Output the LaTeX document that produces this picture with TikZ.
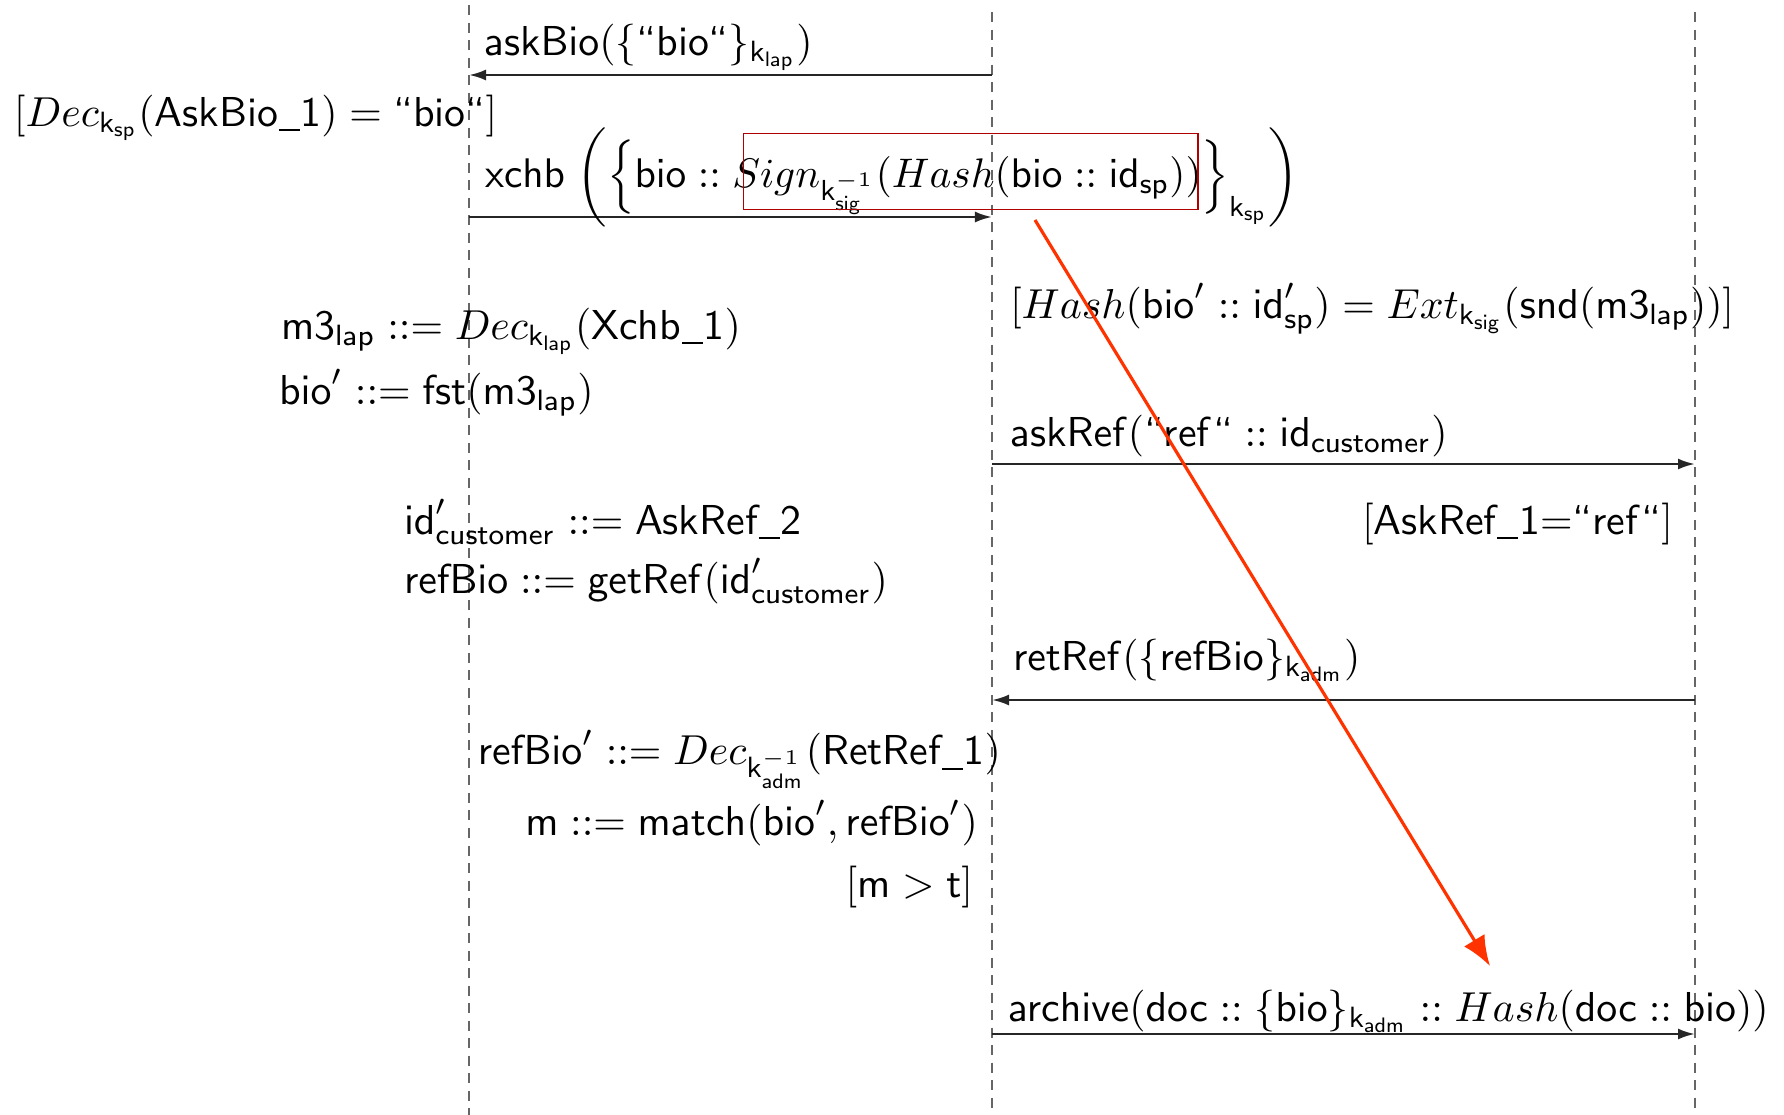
\documentclass[tikz,border=0pt]{standalone}
\usepackage{amsmath}
\usepackage{graphicx}
\usetikzlibrary{arrows.meta}
% sans-serif identifiers inside math
\newcommand{\tx}[1]{\mathsf{#1}}
\newcommand{\tq}[1]{\textsf{``#1``}}
% thin low underscore for identifiers such as AskBio_1
\newcommand{\us}{\kern0.02em\rule[-0.12em]{0.5em}{0.05em}\kern0.02em}
% labels are set at 10pt and enlarged
\newcommand{\lb}[1]{\scalebox{1.19}{#1}}
\tikzset{
  lifeline/.style={draw=black!60, line width=0.55pt, dash pattern=on 0.1cm off 0.075cm},
  msg/.style={draw=black!85, line width=0.7pt, -{Latex[length=0.17cm,width=0.11cm]}},
  lbl/.style={inner sep=0pt, outer sep=0pt, font=\fontsize{10}{12}\selectfont\sffamily},
  hilite/.style={draw=red!70!black, line width=0.4pt, inner sep=0pt},
  pointer/.style={draw={rgb,255:red,255;green,51;blue,0}, line width=0.9pt,
    -{Latex[length=0.3cm,width=0.24cm]}},
}
\begin{document}
\begin{tikzpicture}[x=0.01cm, y=-0.01cm]
\useasboundingbox (0,0) rectangle (1784,1115);

% lifelines
\coordinate (Ltop) at (469,5);   \coordinate (Lbot) at (469,1115);
\coordinate (Mtop) at (992,12);  \coordinate (Mbot) at (992,1108);
\coordinate (Rtop) at (1695,12); \coordinate (Rbot) at (1695,1110);
\draw[lifeline] (Ltop) -- (Lbot);
\draw[lifeline] (Mtop) -- (Mbot);
\draw[lifeline] (Rtop) -- (Rbot);

% message end points on the lifelines
\coordinate (m1M) at (992,75);   \coordinate (m1L) at (469,75);
\coordinate (m2L) at (469,217);  \coordinate (m2M) at (992,217);
\coordinate (m3M) at (992,464);  \coordinate (m3R) at (1695,464);
\coordinate (m4R) at (1695,700); \coordinate (m4M) at (992,700);
\coordinate (m5M) at (992,1034); \coordinate (m5R) at (1695,1034);

\draw[msg] (m1M) -- (m1L);
\draw[msg] (m2L) -- (m2M);
\draw[msg] (m3M) -- (m3R);
\draw[msg] (m4R) -- (m4M);
\draw[msg] (m5M) -- (m5R);

% message labels and local computations
\node[lbl, anchor=west] (askbio) at (484,47)
  {\lb{$\tx{askBio}(\{\tq{bio}\}_{\tx{k}_{\tx{lap}}})$}};
\node[lbl, anchor=west] (grd1) at (14,118)
  {\lb{$[Dec_{\tx{k}_{\tx{sp}}}(\textsf{AskBio\us1}) = \tq{bio}]$}};
\node[lbl, anchor=west] (xchb) at (485,177)
  {\scalebox{1.175}{$\tx{xchb}\; \biggl(\Bigl\{\tx{bio} :: Sign_{\tx{k}_{\tx{sig}}^{-1}}(Hash(\tx{bio} :: \tx{id}_{\tx{sp}}))\Bigr\}_{\tx{k}_{\tx{sp}}}\biggr)$}};
\node[lbl, anchor=west] (grd2) at (1010,309)
  {\lb{$[Hash(\tx{bio}' :: \tx{id}'_{\tx{sp}}) = Ext_{\tx{k}_{\tx{sig}}}(\tx{snd}(\tx{m3}_{\tx{lap}}))]$}};
\node[lbl, anchor=west] (dec1) at (281,331)
  {\lb{$\tx{m3}_{\tx{lap}} ::= Dec_{\tx{k}_{\tx{lap}}}(\textsf{Xchb\us1})$}};
\node[lbl, anchor=west] (fst) at (279,393)
  {\lb{$\tx{bio}' ::= \tx{fst}(\tx{m3}_{\tx{lap}})$}};
\node[lbl, anchor=west] (askref) at (1010,436)
  {\lb{$\tx{askRef}(\tq{ref} :: \tx{id}_{\tx{customer}})$}};
\node[lbl, anchor=east] (grd3) at (1673,524)
  {\lb{$[\textsf{AskRef\us1}{=}\tq{ref}]$}};
\node[lbl, anchor=west] (idc) at (404,522)
  {\lb{$\tx{id}'_{\tx{customer}} ::= \textsf{AskRef\us2}$}};
\node[lbl, anchor=west] (getref) at (404,581)
  {\lb{$\tx{refBio} ::= \tx{getRef}(\tx{id}'_{\tx{customer}})$}};
\node[lbl, anchor=west] (retref) at (1013,660)
  {\lb{$\tx{retRef}(\{\tx{refBio}\}_{\tx{k}_{\tx{adm}}})$}};
\node[lbl, anchor=east] (dec2) at (1001,759)
  {\lb{$\tx{refBio}' ::= Dec_{\tx{k}_{\tx{adm}}^{-1}}(\textsf{RetRef\us1})$}};
\node[lbl, anchor=east] (match) at (978,823)
  {\lb{$\tx{m} ::= \tx{match}(\tx{bio}', \tx{refBio}')$}};
\node[lbl, anchor=east] (grd4) at (973,887)
  {\lb{$[\tx{m} > \tx{t}]$}};
\node[lbl, anchor=west] (archive) at (1008,1011)
  {\lb{$\tx{archive}(\tx{doc} :: \{\tx{bio}\}_{\tx{k}_{\tx{adm}}} :: Hash(\tx{doc} :: \tx{bio}))$}};

% highlighted signature and pointer
\node[hilite, minimum width=4.54cm, minimum height=0.76cm, anchor=north west] (sigbox) at (743,133) {};
\coordinate (ps) at (1035,220);
\coordinate (pe) at (1490,966);
\draw[pointer] (ps) -- (pe);
\end{tikzpicture}
\end{document}
